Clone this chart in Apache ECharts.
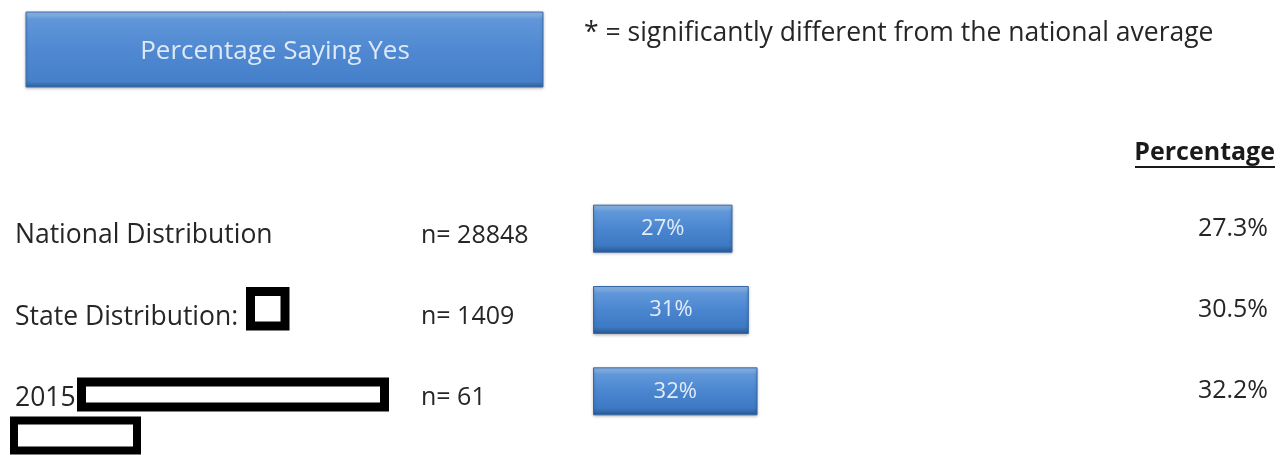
<!DOCTYPE html>
<html>
<head>
<meta charset="utf-8">
<script src="https://cdn.jsdelivr.net/npm/echarts@6/dist/echarts.min.js"></script>
<style>
html,body{margin:0;padding:0;background:#fff;}
#chart{width:1281px;height:455px;}
</style>
</head>
<body>
<div id="chart"></div>
<script>
var categories = ['National Distribution', 'State Distribution:', '2015'];
var sampleSizes = [28848, 1409, 61];
var percentages = [27.3, 30.5, 32.2];
var titleText = 'Percentage Saying Yes';
var noteText = '* = significantly different from the national average';
var columnHeader = 'Percentage';

var FONT = '"Open Sans", sans-serif';
var barGradient = new echarts.graphic.LinearGradient(0, 0, 0, 1, [
  {offset: 0, color: '#9cc2ee'},
  {offset: 0.14, color: '#6198da'},
  {offset: 0.5, color: '#4a86d0'},
  {offset: 0.85, color: '#3e79c3'},
  {offset: 1, color: '#285893'}
]);
var btnGradient = new echarts.graphic.LinearGradient(0, 0, 0, 1, [
  {offset: 0, color: '#98c0ec'},
  {offset: 0.1, color: '#6197d9'},
  {offset: 0.5, color: '#5089d2'},
  {offset: 0.92, color: '#4580ca'},
  {offset: 1, color: '#2f5e98'}
]);

var chart = echarts.init(document.getElementById('chart'));
chart.setOption({
  animation: false,
  backgroundColor: '#ffffff',
  grid: {left: 593, top: 188, width: 511, height: 244, containLabel: false},
  xAxis: {type: 'value', min: 0, max: 100, show: false},
  yAxis: [{
    type: 'category', inverse: true, data: categories, position: 'left',
    axisLine: {show: false}, axisTick: {show: false}, splitLine: {show: false},
    axisLabel: {
      interval: 0, align: 'left', margin: 578,
      formatter: function (v, i) {
        return '{name|' + v + '}{n|n= ' + sampleSizes[i] + '}';
      },
      rich: {
        name: {width: 406, fontFamily: FONT, fontSize: 26.5, color: '#262626', padding: [14, 0, 0, 0]},
        n: {fontFamily: FONT, fontSize: 25, color: '#262626', padding: [14, 0, 0, 0]}
      }
    }
  }, {
    type: 'category', inverse: true, data: categories, position: 'right',
    axisLine: {show: false}, axisTick: {show: false}, splitLine: {show: false},
    axisLabel: {
      interval: 0, align: 'right', margin: 164,
      fontFamily: FONT, fontSize: 25, color: '#262626', padding: [14, 0, 0, 0],
      formatter: function (v, i) { return percentages[i].toFixed(1) + '%'; }
    }
  }],
  series: [{
    type: 'bar', yAxisIndex: 0, data: percentages, barWidth: 48,
    itemStyle: {color: barGradient, borderColor: '#3768a8', borderWidth: 1,
      shadowColor: 'rgba(0,0,0,0.3)', shadowBlur: 3, shadowOffsetY: 1},
    label: {
      show: true, position: 'inside', fontFamily: FONT, fontSize: 22, color: '#e2ecf8',
      formatter: function (p) { return Math.round(p.value) + '%'; }
    }
  }],
  graphic: [
    {type: 'rect', shape: {x: 26, y: 12, width: 517, height: 75},
      style: {fill: btnGradient, stroke: '#3e6fae', lineWidth: 1,
        shadowColor: 'rgba(0,0,0,0.25)', shadowBlur: 3, shadowOffsetY: 1}},
    {type: 'text', x: 275, y: 52, style: {text: titleText, fontFamily: FONT, fontSize: 26,
      fill: '#dde9f7', align: 'center', verticalAlign: 'middle'}},
    {type: 'text', x: 584, y: 33, style: {text: noteText, fontFamily: FONT, fontSize: 26.5,
      fill: '#262626', align: 'left', verticalAlign: 'middle'}},
    {type: 'text', x: 1275, y: 153, style: {text: columnHeader, fontFamily: FONT, fontSize: 25,
      fontWeight: 'bold', fill: '#1a1a1a', align: 'right', verticalAlign: 'middle'}},
    {type: 'line', shape: {x1: 1135, y1: 167, x2: 1275, y2: 167},
      style: {stroke: '#1a1a1a', lineWidth: 2}},
    {type: 'rect', shape: {x: 250.5, y: 291.5, width: 34.5, height: 34.5},
      style: {fill: '#ffffff', stroke: '#000000', lineWidth: 9}},
    {type: 'rect', shape: {x: 81.5, y: 382, width: 303, height: 25},
      style: {fill: '#ffffff', stroke: '#000000', lineWidth: 9}},
    {type: 'rect', shape: {x: 14, y: 420.5, width: 123, height: 30},
      style: {fill: '#ffffff', stroke: '#000000', lineWidth: 8}}
  ]
});
</script>
</body>
</html>
